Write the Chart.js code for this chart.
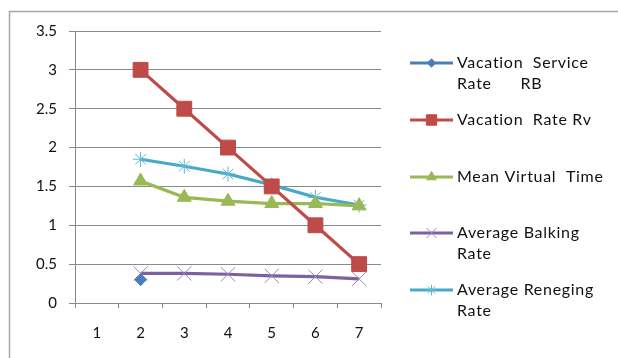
<!DOCTYPE html>
<html>
<head>
<meta charset="utf-8">
<script src="https://cdn.jsdelivr.net/npm/chart.js@4"></script>
<style>
  html, body { margin: 0; padding: 0; background: #fff; }
  #wrap { width: 618px; height: 358px; position: relative; }
</style>
</head>
<body>
<div id="wrap"><canvas id="chart" width="618" height="358"></canvas></div>
<script>
// data
const categories = ['1', '2', '3', '4', '5', '6', '7'];
const vacationServiceRate = [null, 0.3, null, null, null, null, null];
const vacationRate = [null, 3, 2.5, 2, 1.5, 1, 0.5];
const meanVirtualTime = [null, 1.57, 1.36, 1.31, 1.28, 1.28, 1.25];
const avgBalkingRate = [null, 0.38, 0.38, 0.37, 0.35, 0.34, 0.31];
const avgRenegingRate = [null, 1.85, 1.76, 1.66, 1.52, 1.36, 1.26];
const legendLabels = [
  ['Vacation  Service', 'Rate      RB'],
  ['Vacation  Rate Rv'],
  ['Mean Virtual  Time'],
  ['Average Balking', 'Rate'],
  ['Average Reneging', 'Rate']
];

const FONT = 'Lato, "Open Sans", sans-serif';
const GRID = '#8a8a8a';

function series(label, data, color, pointColor, style, radius) {
  return {
    label: label,
    data: data,
    borderColor: color,
    backgroundColor: pointColor,
    pointBackgroundColor: pointColor,
    pointBorderColor: pointColor,
    borderWidth: 3.2,
    pointStyle: style,
    pointRadius: radius,
    pointBorderWidth: 1,
    tension: 0,
    spanGaps: false
  };
}

// frame round the chart (only top and left edges are in the picture)
const framePlugin = {
  id: 'frame',
  beforeDraw(chart) {
    const ctx = chart.ctx;
    ctx.save();
    ctx.strokeStyle = '#a6a6a6';
    ctx.lineWidth = 1.5;
    ctx.beginPath();
    ctx.moveTo(9.5, 358);
    ctx.lineTo(9.5, 11.5);
    ctx.lineTo(618, 11.5);
    ctx.stroke();
    ctx.restore();
  }
};

// Excel-like legend at the right
const legendPlugin = {
  id: 'sideLegend',
  afterDraw(chart) {
    const ctx = chart.ctx;
    const x0 = 410, x1 = 453, tx = 457;
    const ys = [63, 120, 177, 233, 290];
    ctx.save();
    chart.data.datasets.forEach((ds, i) => {
      const y = ys[i];
      ctx.strokeStyle = ds.borderColor;
      ctx.lineWidth = 3;
      ctx.beginPath();
      ctx.moveTo(x0, y);
      ctx.lineTo(x1, y);
      ctx.stroke();
      ctx.fillStyle = ds.pointBackgroundColor;
      ctx.strokeStyle = ds.pointBorderColor;
      ctx.lineWidth = 1;
      Chart.helpers.drawPoint(ctx, {
        pointStyle: ds.pointStyle,
        rotation: 0,
        borderWidth: 1,
        radius: ds.pointRadius * 0.7
      }, (x0 + x1) / 2, y);
      ctx.fillStyle = '#111';
      ctx.font = '16px ' + FONT;
      ctx.letterSpacing = '0.7px';
      ctx.textBaseline = 'middle';
      ctx.textAlign = 'left';
      legendLabels[i].forEach((line, j) => {
        ctx.fillText(line, tx, y + j * 21);
      });
    });
    ctx.restore();
  }
};

new Chart(document.getElementById('chart'), {
  type: 'line',
  data: {
    labels: categories,
    datasets: [
      series('Vacation Service Rate RB', vacationServiceRate, '#4a7ebb', '#4a7ebb', 'rectRot', 6),
      series('Vacation Rate Rv', vacationRate, '#be4b48', '#be4b48', 'rect', 10.5),
      series('Mean Virtual Time', meanVirtualTime, '#98b954', '#98b954', 'triangle', 8),
      series('Average Balking Rate', avgBalkingRate, '#7d60a0', '#9d87c2', 'crossRot', 10),
      series('Average Reneging Rate', avgRenegingRate, '#46aac5', '#5fb8d2', 'star', 7.5)
    ]
  },
  options: {
    responsive: false,
    animation: false,
    events: [],
    layout: {
      padding: { left: 0, top: 31, right: 237, bottom: 0 }
    },
    scales: {
      x: {
        type: 'category',
        offset: true,
        afterFit: (s) => { s.height = 55; },
        grid: {
          offset: true,
          drawOnChartArea: false,
          drawTicks: true,
          tickLength: 5,
          color: GRID
        },
        border: { display: true, color: GRID, width: 1 },
        ticks: {
          color: '#111',
          padding: 16,
          font: { family: FONT, size: 15 }
        }
      },
      y: {
        min: 0,
        max: 3.5,
        afterFit: (s) => { s.width = 75; },
        grid: {
          color: GRID,
          drawTicks: true,
          tickLength: 6
        },
        border: { display: true, color: GRID, width: 1 },
        ticks: {
          stepSize: 0.5,
          color: '#111',
          padding: 12,
          font: { family: FONT, size: 15 },
          callback: (v) => String(Number(v))
        }
      }
    },
    plugins: {
      legend: { display: false },
      tooltip: { enabled: false },
      title: { display: false }
    }
  },
  plugins: [framePlugin, legendPlugin]
});
</script>
</body>
</html>
